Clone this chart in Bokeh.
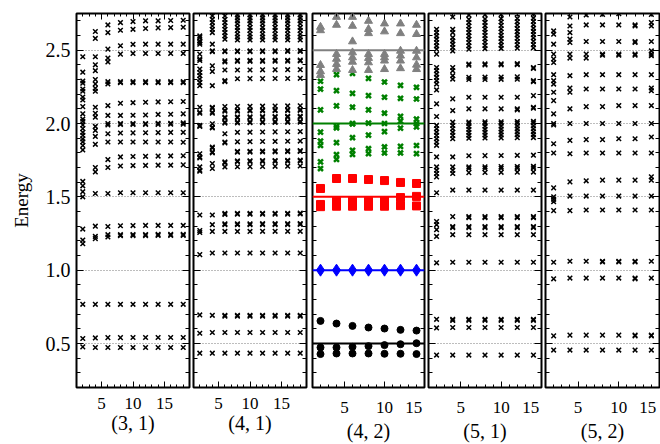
from bokeh.plotting import figure
from bokeh.layouts import row
from bokeh.models import FixedTicker, LinearAxis, Span, Range1d, PrintfTickFormatter
from bokeh.embed import file_html
from bokeh.resources import INLINE

# ---------------- data ----------------
panel_labels = ["(3, 1)", "(4, 1)", "(4, 2)", "(5, 1)", "(5, 2)"]
y_ticks = [0.5, 1.0, 1.5, 2.0, 2.5]
y_minor = [0.2, 0.3, 0.4, 0.5, 0.6, 0.7, 0.8, 0.9, 1.0, 1.1, 1.2, 1.3, 1.4, 1.5,
           1.6, 1.7, 1.8, 1.9, 2.0, 2.1, 2.2, 2.3, 2.4, 2.5, 2.6, 2.7]
x_ticks = [5, 10, 15]
x_edge_tick = 15   # in the narrower panels this label sits flush with the right frame edge
x_minor = [1, 2, 3, 4, 5, 6, 7, 8, 9, 10, 11, 12, 13, 14, 15, 16, 17, 18, 19]

x_31 = [2, 4, 6, 8, 10, 12, 14, 16, 18]
e_31 = [
    [2.455, 2.35, 2.29, 2.275, 2.235, 2.22, 2.18, 2.16, 2.115, 2.066, 2.03, 2.015, 1.99, 1.965,
     1.94, 1.92, 1.895, 1.875, 1.85, 1.82, 1.605, 1.575, 1.535, 1.50, 1.28, 1.205, 1.18, 0.767, 0.534, 0.477],
    [2.627, 2.58, 2.455, 2.40, 2.36, 2.30, 2.27, 2.24, 2.22, 2.111, 2.07, 2.043, 1.98, 1.953,
     1.912, 1.858, 1.70, 1.67, 1.523, 1.30, 1.23, 1.215, 0.767, 0.538, 0.473],
    [2.672, 2.62, 2.507, 2.446, 2.42, 2.285, 2.27, 2.122, 2.055, 2.0, 1.99, 1.93, 1.874, 1.754,
     1.70, 1.523, 1.298, 1.242, 1.226, 0.767, 0.54, 0.473],
    [2.688, 2.636, 2.53, 2.473, 2.285, 2.278, 2.138, 2.055, 2.0, 1.993, 1.935, 1.874, 1.772, 1.71,
     1.528, 1.303, 1.242, 1.235, 0.767, 0.54, 0.473],
    [2.695, 2.642, 2.54, 2.478, 2.285, 2.278, 2.142, 2.056, 2.0, 1.993, 1.936, 1.874, 1.775, 1.713,
     1.528, 1.304, 1.243, 1.236, 0.767, 0.541, 0.473],
    [2.70, 2.648, 2.541, 2.478, 2.285, 2.278, 2.145, 2.058, 2.0, 1.994, 1.937, 1.874, 1.776, 1.714,
     1.528, 1.305, 1.243, 1.236, 0.767, 0.541, 0.473],
    [2.70, 2.652, 2.541, 2.478, 2.285, 2.278, 2.147, 2.062, 2.002, 1.994, 1.938, 1.874, 1.778, 1.716,
     1.528, 1.305, 1.244, 1.237, 0.767, 0.541, 0.473],
    [2.702, 2.654, 2.541, 2.478, 2.285, 2.278, 2.148, 2.063, 2.002, 1.995, 1.939, 1.874, 1.779, 1.716,
     1.528, 1.305, 1.244, 1.237, 0.767, 0.541, 0.473],
    [2.704, 2.656, 2.541, 2.478, 2.285, 2.278, 2.15, 2.066, 2.004, 1.995, 1.94, 1.872, 1.78, 1.718,
     1.528, 1.305, 1.244, 1.237, 0.767, 0.541, 0.473],
]

x_41 = [2, 4, 6, 8, 10, 12, 14, 16, 18]
e_41 = [
    [2.597, 2.586, 2.563, 2.552, 2.541, 2.473, 2.44, 2.43, 2.371, 2.348, 2.326, 2.303, 2.28, 2.258,
     2.111, 2.077, 2.07, 1.987, 1.98, 1.794, 1.772, 1.765, 1.704, 1.681, 1.675, 1.376, 1.27, 1.257,
     1.106, 0.695, 0.57, 0.434],
    [2.733, 2.71, 2.688, 2.665, 2.642, 2.62, 2.541, 2.495, 2.49, 2.393, 2.355, 2.258, 2.111, 2.104,
     2.077, 2.07, 1.998, 1.975, 1.97, 1.840, 1.833, 1.806, 1.80, 1.727, 1.693, 1.376, 1.31, 1.264,
     1.117, 0.692, 0.575, 0.434],
    [2.733, 2.71, 2.688, 2.665, 2.642, 2.62, 2.597, 2.575, 2.495, 2.49, 2.428, 2.42, 2.365, 2.292,
     2.286, 2.116, 2.09, 2.084, 2.043, 2.037, 2.009, 2.003, 1.930, 1.874, 1.868, 1.738, 1.732, 1.704,
     1.387, 1.38, 1.316, 1.31, 1.264, 1.117, 0.692, 0.686, 0.575, 0.434],
    [2.74, 2.72, 2.70, 2.68, 2.655, 2.635, 2.61, 2.59, 2.57, 2.495, 2.49, 2.43, 2.424, 2.365, 2.305,
     2.116, 2.09, 2.084, 2.045, 2.039, 2.01, 2.004, 1.94, 1.875, 1.81, 1.804, 1.745, 1.739, 1.705,
     1.387, 1.381, 1.316, 1.31, 1.264, 1.117, 0.692, 0.686, 0.575, 0.434],
    [2.74, 2.72, 2.70, 2.68, 2.655, 2.635, 2.61, 2.59, 2.57, 2.495, 2.49, 2.43, 2.424, 2.365, 2.306,
     2.117, 2.091, 2.085, 2.046, 2.04, 2.011, 2.005, 1.941, 1.876, 1.811, 1.805, 1.746, 1.74, 1.706,
     1.387, 1.381, 1.316, 1.31, 1.264, 1.117, 0.692, 0.686, 0.575, 0.434],
    [2.74, 2.72, 2.70, 2.68, 2.655, 2.635, 2.61, 2.59, 2.57, 2.496, 2.49, 2.43, 2.424, 2.366, 2.306,
     2.118, 2.092, 2.086, 2.047, 2.041, 2.012, 2.006, 1.942, 1.877, 1.812, 1.806, 1.747, 1.741, 1.707,
     1.388, 1.382, 1.317, 1.311, 1.265, 1.117, 0.692, 0.686, 0.575, 0.434],
    [2.74, 2.72, 2.70, 2.68, 2.655, 2.635, 2.61, 2.59, 2.57, 2.496, 2.49, 2.431, 2.425, 2.366, 2.307,
     2.119, 2.093, 2.087, 2.048, 2.042, 2.013, 2.007, 1.943, 1.878, 1.813, 1.807, 1.748, 1.742, 1.708,
     1.388, 1.382, 1.317, 1.311, 1.265, 1.117, 0.692, 0.686, 0.575, 0.434],
    [2.74, 2.72, 2.70, 2.68, 2.655, 2.635, 2.61, 2.59, 2.57, 2.497, 2.491, 2.431, 2.425, 2.367, 2.307,
     2.12, 2.094, 2.088, 2.049, 2.043, 2.014, 2.008, 1.944, 1.879, 1.814, 1.808, 1.749, 1.743, 1.709,
     1.388, 1.382, 1.317, 1.311, 1.265, 1.117, 0.692, 0.686, 0.575, 0.434],
    [2.74, 2.72, 2.70, 2.68, 2.655, 2.635, 2.61, 2.59, 2.57, 2.497, 2.491, 2.432, 2.426, 2.367, 2.308,
     2.121, 2.095, 2.089, 2.05, 2.044, 2.015, 2.009, 1.945, 1.88, 1.815, 1.809, 1.75, 1.744, 1.71,
     1.389, 1.383, 1.318, 1.312, 1.265, 1.117, 0.692, 0.686, 0.575, 0.434],
]

x_42 = [2, 4, 6, 8, 10, 12, 14]
circle_42 = [[0.654, 0.473, 0.428], [0.636, 0.473, 0.432], [0.62, 0.477, 0.432], [0.609, 0.482, 0.432],
             [0.602, 0.489, 0.43], [0.593, 0.495, 0.43], [0.588, 0.502, 0.428]]
diamond_42 = [[1.0], [1.0], [1.0], [1.0], [1.0], [1.0], [1.0]]
square_42 = [[1.557, 1.448, 1.433], [1.625, 1.47, 1.436], [1.625, 1.47, 1.436], [1.618, 1.47, 1.436],
             [1.611, 1.473, 1.436], [1.598, 1.495, 1.44], [1.591, 1.503, 1.438]]
cross_42 = [[2.288, 2.235, 2.093, 1.941, 1.88, 1.85, 1.738, 1.693],
            [2.333, 2.224, 2.12, 1.98, 1.97, 1.869, 1.788, 1.756],
            [2.342, 2.206, 2.111, 2.0, 1.997, 1.903, 1.817, 1.79],
            [2.308, 2.19, 2.093, 2.002, 1.921, 1.828, 1.794],
            [2.283, 2.179, 2.07, 2.0, 1.944, 1.84, 1.799],
            [2.26, 2.172, 2.048, 2.016, 1.968, 1.844, 1.799],
            [2.247, 2.167, 2.03, 2.0, 1.977, 1.85, 1.794]]
triangle_42 = [[2.658, 2.635, 2.398, 2.355, 2.33],
               [2.726, 2.672, 2.473, 2.44, 2.405, 2.371],
               [2.726, 2.665, 2.559, 2.484, 2.45, 2.42, 2.364],
               [2.699, 2.643, 2.615, 2.473, 2.446, 2.416, 2.364],
               [2.681, 2.627, 2.473, 2.45, 2.428, 2.37],
               [2.681, 2.615, 2.495, 2.462, 2.428, 2.376],
               [2.672, 2.609, 2.495, 2.45, 2.40, 2.37]]
ref_levels_42 = [0.5, 1.0, 1.5, 2.0, 2.5]
ref_colors_42 = ["black", "blue", "red", "green", "gray"]

x_51 = [2, 4, 6, 8, 10, 12, 14]
e_51 = [
    [2.642, 2.62, 2.597, 2.575, 2.552, 2.529, 2.507, 2.473, 2.382, 2.36, 2.337, 2.315, 2.292, 2.269,
     2.229, 2.134, 2.048, 1.987, 1.964, 1.941, 1.919, 1.896, 1.874, 1.851, 1.772, 1.704, 1.681, 1.659,
     1.636, 1.528, 1.332, 1.31, 1.276, 1.23, 1.05, 0.665, 0.606, 0.421],
    [2.726, 2.642, 2.62, 2.586, 2.563, 2.541, 2.518, 2.495, 2.382, 2.36, 2.326, 2.303, 2.168, 2.088,
     2.009, 1.987, 1.964, 1.941, 1.919, 1.896, 1.772, 1.704, 1.681, 1.659, 1.546, 1.365, 1.298, 1.29,
     1.242, 1.054, 0.665, 0.657, 0.609, 0.421],
    [2.74, 2.71, 2.688, 2.665, 2.642, 2.62, 2.597, 2.575, 2.552, 2.529, 2.507, 2.405, 2.398, 2.315,
     2.30, 2.179, 2.10, 2.01, 2.0, 1.98, 1.96, 1.94, 1.92, 1.90, 1.78, 1.704, 1.693, 1.665, 1.546,
     1.365, 1.358, 1.298, 1.29, 1.242, 1.054, 0.665, 0.658, 0.609, 0.421],
    [2.742, 2.712, 2.69, 2.667, 2.644, 2.622, 2.6, 2.578, 2.555, 2.532, 2.51, 2.406, 2.399, 2.316,
     2.30, 2.179, 2.10, 2.011, 2.001, 1.981, 1.961, 1.941, 1.921, 1.901, 1.781, 1.705, 1.694, 1.666,
     1.546, 1.365, 1.358, 1.298, 1.29, 1.242, 1.054, 0.665, 0.658, 0.609, 0.421],
    [2.744, 2.714, 2.692, 2.669, 2.646, 2.624, 2.602, 2.58, 2.557, 2.534, 2.512, 2.407, 2.4, 2.317,
     2.301, 2.179, 2.10, 2.012, 2.002, 1.982, 1.962, 1.942, 1.922, 1.902, 1.782, 1.706, 1.695, 1.667,
     1.546, 1.365, 1.358, 1.298, 1.29, 1.242, 1.054, 0.665, 0.658, 0.609, 0.421],
    [2.746, 2.716, 2.694, 2.671, 2.648, 2.626, 2.604, 2.582, 2.559, 2.536, 2.514, 2.408, 2.401, 2.318,
     2.302, 2.179, 2.10, 2.093, 2.013, 2.003, 1.983, 1.963, 1.943, 1.923, 1.903, 1.783, 1.707, 1.696,
     1.668, 1.546, 1.365, 1.358, 1.298, 1.29, 1.242, 1.054, 0.665, 0.658, 0.609, 0.421],
    [2.748, 2.718, 2.696, 2.673, 2.65, 2.628, 2.606, 2.584, 2.561, 2.538, 2.516, 2.382, 2.375, 2.292,
     2.285, 2.19, 2.111, 2.104, 2.014, 2.004, 1.984, 1.964, 1.944, 1.924, 1.904, 1.784, 1.708, 1.697,
     1.669, 1.546, 1.365, 1.358, 1.298, 1.29, 1.242, 1.054, 0.665, 0.658, 0.609, 0.421],
]

x_52 = [2, 4, 6, 8, 10, 12, 14]
e_52 = [
    [2.631, 2.609, 2.541, 2.473, 2.44, 2.416, 2.333, 2.292, 2.269, 2.213, 2.156, 2.066, 2.0, 1.99,
     1.862, 1.799, 1.561, 1.50, 1.483, 1.467, 1.406, 1.054, 0.941, 0.552, 0.455],
    [2.726, 2.665, 2.62, 2.575, 2.552, 2.473, 2.446, 2.326, 2.242, 2.213, 2.10, 2.0, 1.885, 1.794,
     1.602, 1.505, 1.406, 1.061, 0.946, 0.557, 0.455],
    [2.74, 2.672, 2.559, 2.473, 2.446, 2.333, 2.235, 2.115, 2.0, 1.89, 1.799, 1.609, 1.505, 1.41,
     1.061, 0.946, 0.557, 0.455],
    [2.744, 2.672, 2.559, 2.473, 2.466, 2.333, 2.235, 2.115, 2.0, 1.89, 1.799, 1.614, 1.505, 1.41,
     1.061, 1.056, 0.946, 0.557, 0.455],
    [2.749, 2.672, 2.559, 2.473, 2.466, 2.333, 2.235, 2.122, 2.0, 1.896, 1.799, 1.614, 1.505, 1.41,
     1.061, 1.056, 0.946, 0.557, 0.455],
    [2.672, 2.665, 2.559, 2.552, 2.473, 2.466, 2.333, 2.235, 2.122, 2.0, 1.896, 1.799, 1.614, 1.505,
     1.41, 1.061, 1.056, 0.946, 0.941, 0.557, 0.552, 0.455],
    [2.744, 2.688, 2.665, 2.559, 2.495, 2.462, 2.473, 2.333, 2.242, 2.224, 2.122, 2.0, 1.908, 1.799,
     1.636, 1.614, 1.505, 1.41, 1.061, 0.946, 0.557, 0.552, 0.455],
]

# ---------------- helpers ----------------
FONT = "Liberation Serif"


def flat(xs, cols):
    fx, fy = [], []
    for x, col in zip(xs, cols):
        fx += [x] * len(col)
        fy += list(col)
    return fx, fy


def hide_labels(ax):
    ax.major_label_text_color = None
    ax.major_label_text_font_size = "1px"
    ax.major_label_standoff = 0


def make_panel(x_range, width, b_left, b_right, label, first, edge15):
    p = figure(width=width, height=444, x_range=Range1d(*x_range), y_range=Range1d(0.2, 2.75),
               output_backend="svg", toolbar_location=None,
               min_border_left=b_left, min_border_right=b_right,
               min_border_top=13, min_border_bottom=56,
               background_fill_color="white", border_fill_color="white")
    p.outline_line_color = "black"
    p.outline_line_width = 2
    p.xgrid.visible = False
    p.ygrid.ticker = FixedTicker(ticks=y_ticks)
    p.ygrid.grid_line_color = "#7a7a7a"
    p.ygrid.grid_line_dash = "1 2"
    p.ygrid.grid_line_width = 1

    xtk = FixedTicker(ticks=x_ticks, minor_ticks=x_minor)
    ytk = FixedTicker(ticks=y_ticks, minor_ticks=y_minor)
    bx = p.below[0]
    ly = p.left[0]
    bx.ticker = xtk
    ly.ticker = ytk
    top = LinearAxis(ticker=xtk)
    right = LinearAxis(ticker=ytk)
    hide_labels(top)
    hide_labels(right)
    p.add_layout(top, "above")
    p.add_layout(right, "right")

    for ax in [bx, top]:
        ax.major_tick_in = 6
        ax.minor_tick_in = 3
    for ax in [ly, right]:
        ax.major_tick_in = 7
        ax.minor_tick_in = 4
    for ax in [bx, top, ly, right]:
        ax.major_tick_out = 0
        ax.minor_tick_out = 0
        ax.axis_line_color = None
        ax.major_tick_line_color = "black"
        ax.minor_tick_line_color = "black"
        ax.major_tick_line_width = 1
        ax.minor_tick_line_width = 1

    bx.major_label_text_font = FONT
    bx.major_label_text_font_size = "17px"
    bx.major_label_text_color = "black"
    bx.major_label_standoff = 10
    bx.axis_label = label
    bx.axis_label_text_font = FONT
    bx.axis_label_text_font_size = "20px"
    bx.axis_label_text_font_style = "normal"
    bx.axis_label_text_color = "black"
    bx.axis_label_standoff = 0
    if edge15:
        # pad with a no-break space so that the centred label ends at the frame edge
        bx.major_label_overrides = {x_edge_tick: str(x_edge_tick) + "\u00a0"}

    if first:
        ly.formatter = PrintfTickFormatter(format="%.1f")
        ly.major_label_text_font = FONT
        ly.major_label_text_font_size = "20px"
        ly.major_label_text_color = "black"
        ly.major_label_standoff = 6
        ly.axis_label = "Energy"
        ly.axis_label_text_font = FONT
        ly.axis_label_text_font_size = "19px"
        ly.axis_label_text_font_style = "normal"
        ly.axis_label_text_color = "black"
        ly.axis_label_standoff = 11
    else:
        hide_labels(ly)
    return p


def black_x(p, xs, cols):
    fx, fy = flat(xs, cols)
    p.scatter(fx, fy, marker="x", size=6.5, line_color="black", line_width=1.5)


p1 = make_panel((1, 19), 191, 76, 2, panel_labels[0], True, False)
black_x(p1, x_31, e_31)

p2 = make_panel((1, 19), 118, 2, 3, panel_labels[1], False, False)
black_x(p2, x_41, e_41)

p3 = make_panel((1, 15), 117, 3, 2, panel_labels[2], False, True)
for lvl, col in zip(ref_levels_42, ref_colors_42):
    p3.add_layout(Span(location=lvl, dimension="width", line_color=col, line_width=2))
fx, fy = flat(x_42, circle_42)
p3.scatter(fx, fy, marker="circle", size=7, fill_color="black", line_color="black")
fx, fy = flat(x_42, diamond_42)
p3.scatter(fx, fy, marker="diamond", size=12, fill_color="blue", line_color="blue")
fx, fy = flat(x_42, square_42)
p3.scatter(fx, fy, marker="square", size=8, fill_color="red", line_color="red")
fx, fy = flat(x_42, cross_42)
p3.scatter(fx, fy, marker="x", size=7, line_color="green", line_width=2.5)
fx, fy = flat(x_42, triangle_42)
p3.scatter(fx, fy, marker="triangle", size=8, fill_color="gray", line_color="gray")

p4 = make_panel((1, 15), 117, 2, 2, panel_labels[3], False, True)
black_x(p4, x_51, e_51)

p5 = make_panel((1, 15), 117, 2, 1, panel_labels[4], False, True)
black_x(p5, x_52, e_52)

layout = row(p1, p2, p3, p4, p5, spacing=0)
open("out.html", "w").write(file_html(layout, INLINE))
